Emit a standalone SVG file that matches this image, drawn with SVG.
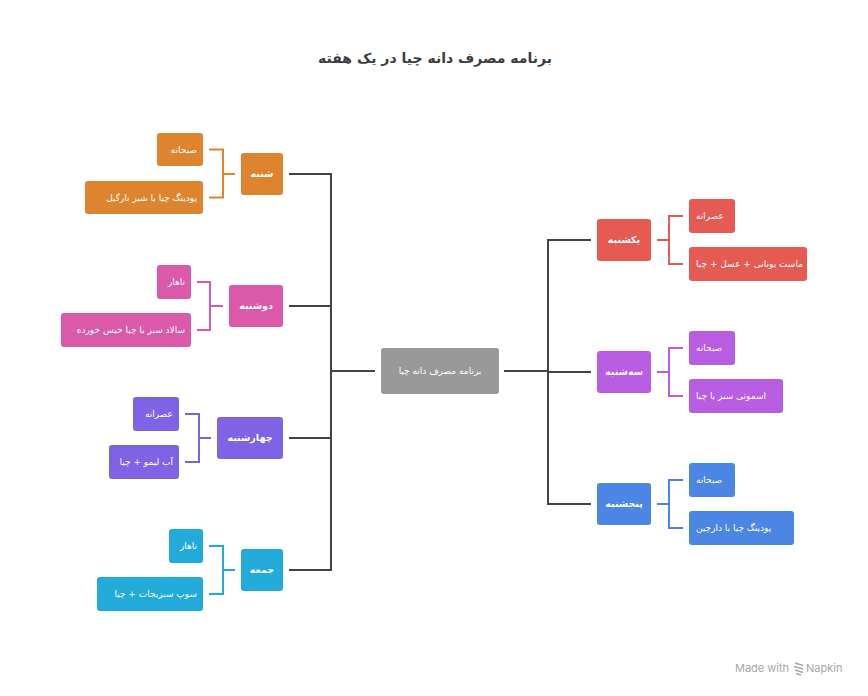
<svg xmlns="http://www.w3.org/2000/svg" width="868" height="696" viewBox="0 0 868 696">
<style>
text{font-family:"DejaVu Sans","Noto Sans",sans-serif;}
.title{font-size:14px;font-weight:bold;fill:#3d3d3d;text-anchor:middle;}
.day{font-size:9.5px;font-weight:bold;fill:#fff;text-anchor:middle;}
.sub{font-size:9px;fill:#fff;}
.l{text-anchor:end;}
.ctr{font-size:9px;fill:#fff;text-anchor:middle;}
.conn{stroke:#444;stroke-width:2;fill:none;}
.br{stroke-width:2;fill:none;}
.wm{font-family:"Inter","Noto Sans",sans-serif;font-size:11px;fill:#a8a8a8;}
</style>
<rect width="868" height="696" fill="#fff"/>
<text class="title" x="435" y="63">برنامه مصرف دانه چیا در یک هفته</text>

<g id="connectors">
<path class="conn" d="M289 174H331M289 306H331M289 438H331M289 570H331M331 173V571M331 371H375"/>
<path class="conn" d="M504 371H548M548 239V505M548 240H591M548 372H591M548 504H591"/>
</g>

<g id="center">
<rect x="381" y="348" width="118" height="46" rx="3" fill="#999"/>
<text class="ctr" x="440" y="374">برنامه مصرف دانه چیا</text>
</g>

<g id="shanbe">
<rect x="241" y="153" width="42" height="42" rx="3" fill="#DE842F"/>
<text class="day" x="262" y="177">شنبه</text>
<path class="br" stroke="#DE842F" d="M209 149.5H223V197.5H209M223 174H235"/>
<rect x="157" y="133" width="46" height="33" rx="3" fill="#DE842F"/>
<text class="sub l" x="197" y="152.5">صبحانه</text>
<rect x="85" y="181" width="118" height="33" rx="3" fill="#DE842F"/>
<text class="sub l" x="197" y="200.5">پودینگ چیا با شیر نارگیل</text>
</g>

<g id="doshanbe">
<rect x="229" y="285" width="54" height="42" rx="3" fill="#DB59A9"/>
<text class="day" x="256" y="309">دوشنبه</text>
<path class="br" stroke="#DB59A9" d="M197 282H210V330H197M210 306H223"/>
<rect x="157" y="265" width="34" height="34" rx="3" fill="#DB59A9"/>
<text class="sub l" x="185" y="285">ناهار</text>
<rect x="61" y="313" width="130" height="34" rx="3" fill="#DB59A9"/>
<text class="sub l" x="185" y="333">سالاد سبز با چیا خیس خورده</text>
</g>

<g id="chaharshanbe">
<rect x="217" y="417" width="66" height="42" rx="3" fill="#7E63E5"/>
<text class="day" x="250" y="441">چهارشنبه</text>
<path class="br" stroke="#7E63E5" d="M185 414H199V462H185M199 438H211"/>
<rect x="133" y="397" width="46" height="34" rx="3" fill="#7E63E5"/>
<text class="sub l" x="173" y="417">عصرانه</text>
<rect x="109" y="445" width="70" height="34" rx="3" fill="#7E63E5"/>
<text class="sub l" x="173" y="465">آب لیمو + چیا</text>
</g>

<g id="jome">
<rect x="241" y="549" width="42" height="42" rx="3" fill="#22AADA"/>
<text class="day" x="262" y="573">جمعه</text>
<path class="br" stroke="#22AADA" d="M209 546H223V594H209M223 570H235"/>
<rect x="169" y="529" width="34" height="34" rx="3" fill="#22AADA"/>
<text class="sub l" x="197" y="549">ناهار</text>
<rect x="97" y="577" width="106" height="34" rx="3" fill="#22AADA"/>
<text class="sub l" x="197" y="597">سوپ سبزیجات + چیا</text>
</g>

<g id="yekshanbe">
<rect x="597" y="219" width="54" height="42" rx="3" fill="#E55A53"/>
<text class="day" x="624" y="243">یکشنبه</text>
<path class="br" stroke="#E55A53" d="M683 216H669V264H683M669 240H657"/>
<rect x="689" y="199" width="46" height="34" rx="3" fill="#E55A53"/>
<text class="sub" x="696" y="219">عصرانه</text>
<rect x="689" y="247" width="118" height="34" rx="3" fill="#E55A53"/>
<text class="sub" x="696" y="267">ماست یونانی + عسل + چیا</text>
</g>

<g id="seshanbe">
<rect x="597" y="351" width="54" height="42" rx="3" fill="#B95DE2"/>
<text class="day" x="624" y="375">سه‌شنبه</text>
<path class="br" stroke="#B95DE2" d="M683 348H669V396H683M669 372H657"/>
<rect x="689" y="331" width="46" height="34" rx="3" fill="#B95DE2"/>
<text class="sub" x="696" y="351">صبحانه</text>
<rect x="689" y="379" width="94" height="34" rx="3" fill="#B95DE2"/>
<text class="sub" x="696" y="399">اسموتی سبز با چیا</text>
</g>

<g id="panjshanbe">
<rect x="597" y="483" width="54" height="42" rx="3" fill="#4C86E4"/>
<text class="day" x="624" y="507">پنجشنبه</text>
<path class="br" stroke="#4C86E4" d="M683 480H669V528H683M669 504H657"/>
<rect x="689" y="463" width="46" height="34" rx="3" fill="#4C86E4"/>
<text class="sub" x="696" y="483">صبحانه</text>
<rect x="689" y="511" width="105" height="34" rx="3" fill="#4C86E4"/>
<text class="sub" x="696" y="531">پودینگ چیا با دارچین</text>
</g>

<g id="watermark">
<text class="wm" x="735" y="672">Made with</text>
<path d="M795 663l8 2.5M794 666.5l9 2.5M795 670l8 2.5M796 673.5l5 1.5" stroke="#a8a8a8" stroke-width="1.4" fill="none"/>
<text class="wm" x="806" y="672">Napkin</text>
</g>
</svg>
